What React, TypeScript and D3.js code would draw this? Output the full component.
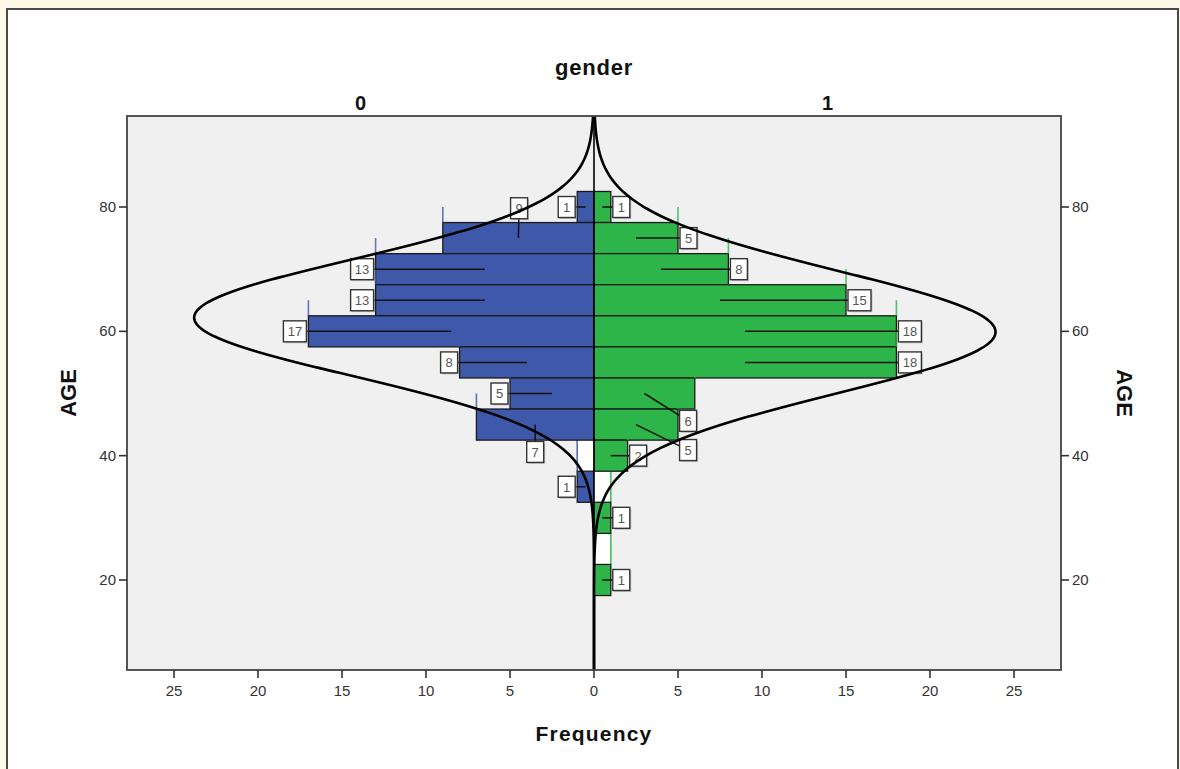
import * as d3 from "d3";

// age bins (centres of 5-year classes), top to bottom
const BINS = [80, 75, 70, 65, 60, 55, 50, 45, 40, 35, 30, 25, 20];
// frequencies per bin for each gender
const GENDER_0 = [1, 9, 13, 13, 17, 8, 5, 7, 0, 1, 0, 0, 0];
const GENDER_1 = [1, 5, 8, 15, 18, 18, 6, 5, 2, 0, 1, 0, 1];
// empty outline bins (drawn white in the source picture)
const GHOST_0 = [40];
const GHOST_1 = [35, 25];
// normal curve parameters
const NORMAL_0 = { mean: 62.2, sd: 9.35, peak: 23.8 };
const NORMAL_1 = { mean: 59.9, sd: 9.85, peak: 23.9 };

const FREQ_TICKS = [0, 5, 10, 15, 20, 25];
const AGE_TICKS = [20, 40, 60, 80];

// labels that were pushed away from their bar (centre in data units)
const LABEL_MOVES_0: Record<number, [number, number]> = { 75: [4.46, 79.8], 45: [3.5, 40.6] };
const LABEL_MOVES_1: Record<number, [number, number]> = { 50: [5.6, 45.6], 45: [5.6, 40.9] };

const W = 1180;
const H = 769;
const PLOT = { left: 127, right: 1061, top: 116, bottom: 670 };
const CENTER = (PLOT.left + PLOT.right) / 2;
const FONT = "'Liberation Sans', Arial, sans-serif";
const BLUE = "#3e58aa";
const GREEN = "#2eb54a";

export default function App() {
  const maxF = (CENTER - PLOT.left) / 16.8;
  const xL = d3.scaleLinear().domain([0, maxF]).range([CENTER, PLOT.left]);
  const xR = d3.scaleLinear().domain([0, maxF]).range([CENTER, PLOT.right]);
  const y = d3.scaleLinear().domain([5.52, 94.64]).range([PLOT.bottom, PLOT.top]);

  const ages = d3.range(5.52, 94.64, 0.2).concat([94.64]);
  const normal = (p: { mean: number; sd: number; peak: number }) => (a: number) =>
    p.peak * Math.exp(-((a - p.mean) ** 2) / (2 * p.sd * p.sd));

  const side = (
    counts: number[],
    ghosts: number[],
    moves: Record<number, [number, number]>,
    x: d3.ScaleLinear<number, number>,
    color: string,
    dir: number,
    norm: { mean: number; sd: number; peak: number }
  ) => {
    const f = normal(norm);
    const curve = d3
      .line<number>()
      .x((a) => x(f(a)))
      .y((a) => y(a))(ages);
    const bars = BINS.map((b, i) => ({ b, c: counts[i], above: i > 0 ? counts[i - 1] : 0 })).filter((d) => d.c > 0);
    return (
      <g>
        {ghosts.map((b) => (
          <g key={"g" + b}>
            <rect
              x={Math.min(x(0), x(1))}
              y={y(b + 2.5)}
              width={Math.abs(x(1) - x(0))}
              height={y(b - 2.5) - y(b + 2.5)}
              fill="#ffffff"
            />
            <line x1={x(1)} x2={x(1)} y1={y(b + 2.5)} y2={y(b - 2.5)} stroke={color} strokeWidth={1.6} opacity={0.85} />
          </g>
        ))}
        {bars.map((d) => (
          <rect
            key={"b" + d.b}
            x={Math.min(x(0), x(d.c))}
            y={y(d.b + 2.5)}
            width={Math.abs(x(d.c) - x(0))}
            height={y(d.b - 2.5) - y(d.b + 2.5)}
            fill={color}
            stroke="#1a1a1a"
            strokeWidth={1.3}
          />
        ))}
        {bars
          .filter((d) => d.above > 0)
          .map((d) => (
            <line
              key={"m" + d.b}
              x1={x(d.c)}
              x2={x(d.c)}
              y1={y(d.b + 2.5)}
              y2={y(d.b + 5)}
              stroke={color}
              strokeWidth={1.6}
              opacity={0.8}
            />
          ))}
        {bars.map((d) => {
          const txt = String(d.c);
          const bw = txt.length > 1 ? 23 : 17;
          const bh = 21;
          const mv = moves[d.b];
          const cx = mv ? x(mv[0]) : x(d.c) + dir * (bw / 2 + 2);
          const cy = mv ? y(mv[1]) : y(d.b);
          return (
            <g key={"l" + d.b}>
              <line x1={x(d.c / 2)} y1={y(d.b)} x2={cx} y2={cy} stroke="#111" strokeWidth={1.5} />
              <rect x={cx - bw / 2 + 1.5} y={cy - bh / 2 + 1.5} width={bw} height={bh} fill="#9a9a9a" opacity={0.5} />
              <rect x={cx - bw / 2} y={cy - bh / 2} width={bw} height={bh} fill="#ffffff" stroke="#333" strokeWidth={1.4} />
              <text x={cx} y={cy + 5} textAnchor="middle" fontSize={13} fill="#555" fontFamily={FONT}>
                {txt}
              </text>
            </g>
          );
        })}
        <path d={curve ?? ""} fill="none" stroke="#000" strokeWidth={2.6} />
      </g>
    );
  };

  return (
    <div style={{ position: "absolute", left: 0, top: 0 }}>
      <svg width={W} height={H} style={{ display: "block" }}>
        <rect x={0} y={0} width={W} height={H} fill="#fdf9e7" />
        <rect x={7} y={9} width={W - 9} height={H} fill="#ffffff" stroke="#4a4a4a" strokeWidth={2} />

        <text x={CENTER} y={75} textAnchor="middle" fontSize={22} fontWeight="bold" fontFamily={FONT} fill="#111" letterSpacing={0.8}>
          gender
        </text>
        <text x={(PLOT.left + CENTER) / 2} y={110} textAnchor="middle" fontSize={20} fontWeight="bold" fontFamily={FONT} fill="#111">
          0
        </text>
        <text x={(CENTER + PLOT.right) / 2} y={110} textAnchor="middle" fontSize={20} fontWeight="bold" fontFamily={FONT} fill="#111">
          1
        </text>

        <clipPath id="plotClip">
          <rect x={PLOT.left} y={PLOT.top} width={PLOT.right - PLOT.left} height={PLOT.bottom - PLOT.top} />
        </clipPath>
        <rect
          x={PLOT.left}
          y={PLOT.top}
          width={PLOT.right - PLOT.left}
          height={PLOT.bottom - PLOT.top}
          fill="#f0f0f0"
        />
        <g clipPath="url(#plotClip)">
          {side(GENDER_0, GHOST_0, LABEL_MOVES_0, xL, BLUE, -1, NORMAL_0)}
          {side(GENDER_1, GHOST_1, LABEL_MOVES_1, xR, GREEN, 1, NORMAL_1)}
          <line x1={CENTER} x2={CENTER} y1={PLOT.top} y2={PLOT.bottom} stroke="#000" strokeWidth={1.6} />
        </g>
        <rect
          x={PLOT.left}
          y={PLOT.top}
          width={PLOT.right - PLOT.left}
          height={PLOT.bottom - PLOT.top}
          fill="none"
          stroke="#444"
          strokeWidth={1.8}
        />

        {/* frequency axis, mirrored */}
        {[xL, xR].map((x, k) =>
          FREQ_TICKS.filter((t) => k === 0 || t > 0).map((t) => (
            <g key={k + "-" + t} transform={`translate(${x(t)},${PLOT.bottom})`}>
              <line y1={0} y2={8} stroke="#333" strokeWidth={1.6} />
              <text y={26} textAnchor="middle" fontSize={15} fill="#333" fontFamily={FONT}>
                {t}
              </text>
            </g>
          ))
        )}

        {/* age axes on both sides */}
        {AGE_TICKS.map((t) => (
          <g key={"ya" + t}>
            <line x1={PLOT.left - 8} x2={PLOT.left} y1={y(t)} y2={y(t)} stroke="#333" strokeWidth={1.6} />
            <text x={PLOT.left - 11} y={y(t) + 5} textAnchor="end" fontSize={15} fill="#333" fontFamily={FONT}>
              {t}
            </text>
            <line x1={PLOT.right} x2={PLOT.right + 8} y1={y(t)} y2={y(t)} stroke="#333" strokeWidth={1.6} />
            <text x={PLOT.right + 11} y={y(t) + 5} textAnchor="start" fontSize={15} fill="#333" fontFamily={FONT}>
              {t}
            </text>
          </g>
        ))}

        <text
          transform={`translate(76,${(PLOT.top + PLOT.bottom) / 2}) rotate(-90)`}
          textAnchor="middle"
          fontSize={22}
          fontWeight="bold"
          fontFamily={FONT}
          fill="#111"
        >
          AGE
        </text>
        <text
          transform={`translate(1117,${(PLOT.top + PLOT.bottom) / 2}) rotate(90)`}
          textAnchor="middle"
          fontSize={22}
          fontWeight="bold"
          fontFamily={FONT}
          fill="#111"
        >
          AGE
        </text>
        <text x={CENTER} y={741} textAnchor="middle" fontSize={21} fontWeight="bold" fontFamily={FONT} fill="#111" letterSpacing={1.2}>
          Frequency
        </text>
      </svg>
    </div>
  );
}
